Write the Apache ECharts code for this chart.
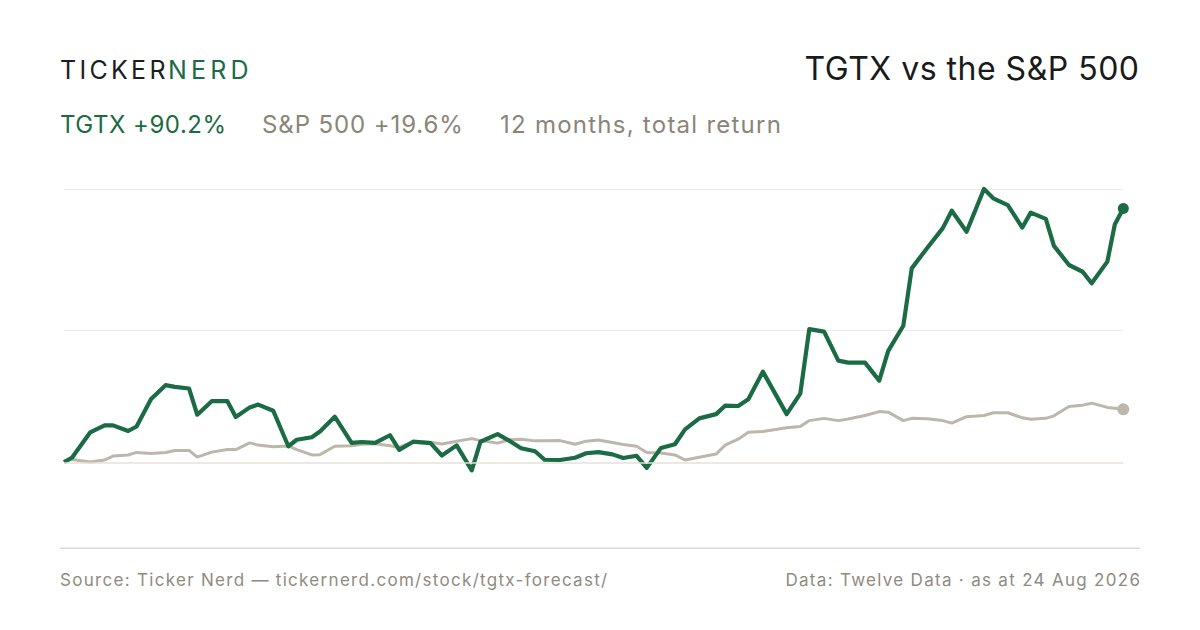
<!DOCTYPE html>
<html>
<head>
<meta charset="utf-8">
<script src="https://cdn.jsdelivr.net/npm/echarts@6/dist/echarts.min.js"></script>
<style>
  html, body { margin: 0; padding: 0; background: #ffffff; }
  #chart { width: 1200px; height: 630px; }
  /* tracking for the text groups (SVG renderer) */
  #chart text[fill="#1e1e1e"] { letter-spacing: 3.3px; }
  #chart text[fill="#1b6b45"] { letter-spacing: 4.2px; }
  #chart text[fill="#1a1a1a"] { letter-spacing: 0.5px; }
  #chart text[fill="#1b6b43"] { letter-spacing: 0.5px; }
  #chart text[fill="#8a8577"] { letter-spacing: 0.9px; }
  #chart text[fill="#8a8578"] { letter-spacing: 1.25px; }
  #chart text[fill="#8f8b7f"] { letter-spacing: 1.3px; }
</style>
</head>
<body>
<div id="chart"></div>
<script>
// Days elapsed since the start of the 12-month window (24 Aug 2025 = day 0)
const daysElapsed = [
  0, 2.8, 9.0, 14.0, 16.9, 22.1, 25.0, 30.0, 35.0, 38.2,
  43.1, 45.9, 50.9, 56.3, 59.2, 64.0, 66.9, 72.1, 77.3, 80.2,
  85.4, 88.2, 93.3, 99.1, 102.6, 107.2, 112.3, 115.5, 120.3, 126.3,
  130.2, 135.3, 140.5, 143.5, 149.4, 153.7, 157.5, 162.3, 165.6, 170.9,
  176.1, 179.9, 184.1, 189.0, 192.7, 197.3, 200.8, 205.7, 210.5, 214.0,
  218.9, 224.7, 227.8, 232.3, 235.8, 240.8, 249.0, 253.7, 256.8, 261.9,
  266.8, 270.2, 276.0, 280.9, 284.0, 289.2, 292.1, 297.3, 302.8, 305.9,
  311.0, 317.0, 320.2, 325.2, 330.2, 333.1, 338.3, 341.1, 346.3, 351.0,
  354.1, 359.5, 362.1, 365
];

// TGTX cumulative return, %
const tgtxReturn = [
  0, 1.7, 10.6, 13.1, 13.1, 11.1, 12.7, 22.5, 27.4, 26.8,
  26.2, 16.9, 21.7, 21.7, 16.1, 19.5, 20.5, 18.3, 5.7, 8.0,
  8.9, 10.9, 16.2, 6.9, 7.2, 6.9, 9.6, 4.4, 7.3, 6.8,
  2.4, 6.0, -2.9, 7.3, 10.0, 7.5, 5.0, 3.9, 0.9, 0.8,
  1.6, 3.2, 3.6, 2.8, 1.5, 2.3, -2.0, 5.1, 6.4, 11.7,
  15.6, 17.1, 20.1, 20.0, 22.4, 32.2, 17.1, 24.4, 47.3, 46.4,
  36.1, 35.4, 35.4, 29.0, 39.6, 48.5, 68.9, 76.0, 83.2, 89.4,
  81.9, 97.1, 93.8, 91.4, 83.4, 88.7, 86.5, 76.9, 70.1, 67.7,
  63.6, 71.3, 84.6, 90.2
];

// S&P 500 cumulative return, %
const spxReturn = [
  0.5, 1.0, 0.1, 0.8, 2.2, 2.6, 3.5, 3.1, 3.5, 4.2,
  4.2, 1.8, 3.6, 4.5, 4.5, 6.9, 6.1, 5.5, 5.8, 4.5,
  2.6, 2.7, 5.7, 5.9, 6.4, 6.6, 5.9, 5.3, 7.3, 7.1,
  6.5, 7.5, 8.4, 7.7, 6.8, 8.0, 8.2, 7.6, 7.6, 7.7,
  6.4, 7.5, 7.9, 7.0, 6.3, 5.7, 3.5, 3.3, 2.6, 0.8,
  1.8, 2.9, 6.1, 8.2, 10.7, 10.9, 12.3, 12.7, 14.8, 15.6,
  14.8, 15.4, 16.6, 18.0, 17.8, 14.8, 15.6, 15.5, 14.8, 13.9,
  16.2, 16.6, 17.6, 17.6, 15.8, 15.3, 15.6, 16.5, 19.8, 20.3,
  21.0, 19.5, 19.2, 18.8
];

const gridValues = [-3, 47, 97];   // axis min, gridline, gridline

const GREEN = '#1b6b44';
const GREY_LINE = '#bdb6aa';
const FONT = 'Inter, "Liberation Sans", sans-serif';

const tgtxData = daysElapsed.map((d, i) => [d, tgtxReturn[i]]);
const spxData = daysElapsed.map((d, i) => [d, spxReturn[i]]);
const lastIdx = daysElapsed.length - 1;

const chart = echarts.init(document.getElementById('chart'), null, { renderer: 'svg' });

chart.setOption({
  backgroundColor: '#ffffff',
  animation: false,
  grid: { left: 64, right: 76.7, top: 189.3, bottom: 159.3, containLabel: false },
  xAxis: {
    type: 'value',
    min: 0,
    max: 365,
    show: false
  },
  yAxis: {
    type: 'value',
    min: gridValues[0],
    max: gridValues[2],
    interval: gridValues[1] - gridValues[0],
    axisLine: { show: false },
    axisTick: { show: false },
    axisLabel: { show: false },
    splitLine: {
      show: true,
      lineStyle: { color: ['rgba(0,0,0,0)', '#eeebe5', '#eeebe5'], width: 1.2 }
    }
  },
  series: [
    {
      name: 'S&P 500',
      type: 'line',
      z: 2,
      data: spxData,
      showSymbol: true,
      symbol: 'circle',
      symbolSize: (v, p) => (p.dataIndex === lastIdx ? 12 : 0),
      lineStyle: { color: GREY_LINE, width: 3 },
      itemStyle: { color: GREY_LINE },
      markLine: {
        silent: true,
        symbol: 'none',
        label: { show: false },
        lineStyle: { color: '#e6e1d8', width: 1.5, type: 'solid' },
        data: [{ yAxis: 0 }]
      },
      clip: false
    },
    {
      name: 'TGTX',
      type: 'line',
      z: 3,
      data: tgtxData,
      showSymbol: true,
      symbol: 'circle',
      symbolSize: (v, p) => (p.dataIndex === lastIdx ? 11 : 0),
      lineStyle: { color: GREEN, width: 4.2, join: 'round' },
      itemStyle: { color: GREEN },
      clip: false
    }
  ],
  graphic: [
    { type: 'text', x: 60, y: 70, style: { text: 'TICKER', fill: '#1e1e1e', font: '400 25px ' + FONT, textVerticalAlign: 'middle' } },
    { type: 'text', x: 168, y: 70, style: { text: 'NERD', fill: '#1b6b45', font: '400 25px ' + FONT, textVerticalAlign: 'middle' } },
    { type: 'text', x: 1139.5, y: 68, style: { text: 'TGTX vs the S&P 500', fill: '#1a1a1a', font: '400 32px ' + FONT, textAlign: 'right', textVerticalAlign: 'middle' } },
    { type: 'text', x: 60, y: 124, style: { text: 'TGTX +90.2%', fill: '#1b6b43', font: '400 24px ' + FONT, textVerticalAlign: 'middle' } },
    { type: 'text', x: 262, y: 124, style: { text: 'S&P 500 +19.6%', fill: '#8a8577', font: '400 24px ' + FONT, textVerticalAlign: 'middle' } },
    { type: 'text', x: 500, y: 124, style: { text: '12 months, total return', fill: '#8a8578', font: '400 24px ' + FONT, textVerticalAlign: 'middle' } },
    { type: 'rect', shape: { x: 60, y: 547.5, width: 1080, height: 1.5 }, style: { fill: '#ddd9cf' } },
    { type: 'text', x: 60, y: 580, style: { text: 'Source: Ticker Nerd \u2014 tickernerd.com/stock/tgtx-forecast/', fill: '#8f8b7f', font: '400 17px ' + FONT, textVerticalAlign: 'middle' } },
    { type: 'text', x: 1141.3, y: 580, style: { text: 'Data: Twelve Data \u00b7 as at 24 Aug 2026', fill: '#8f8b7f', font: '400 17px ' + FONT, textAlign: 'right', textVerticalAlign: 'middle' } }
  ]
});
</script>
</body>
</html>
